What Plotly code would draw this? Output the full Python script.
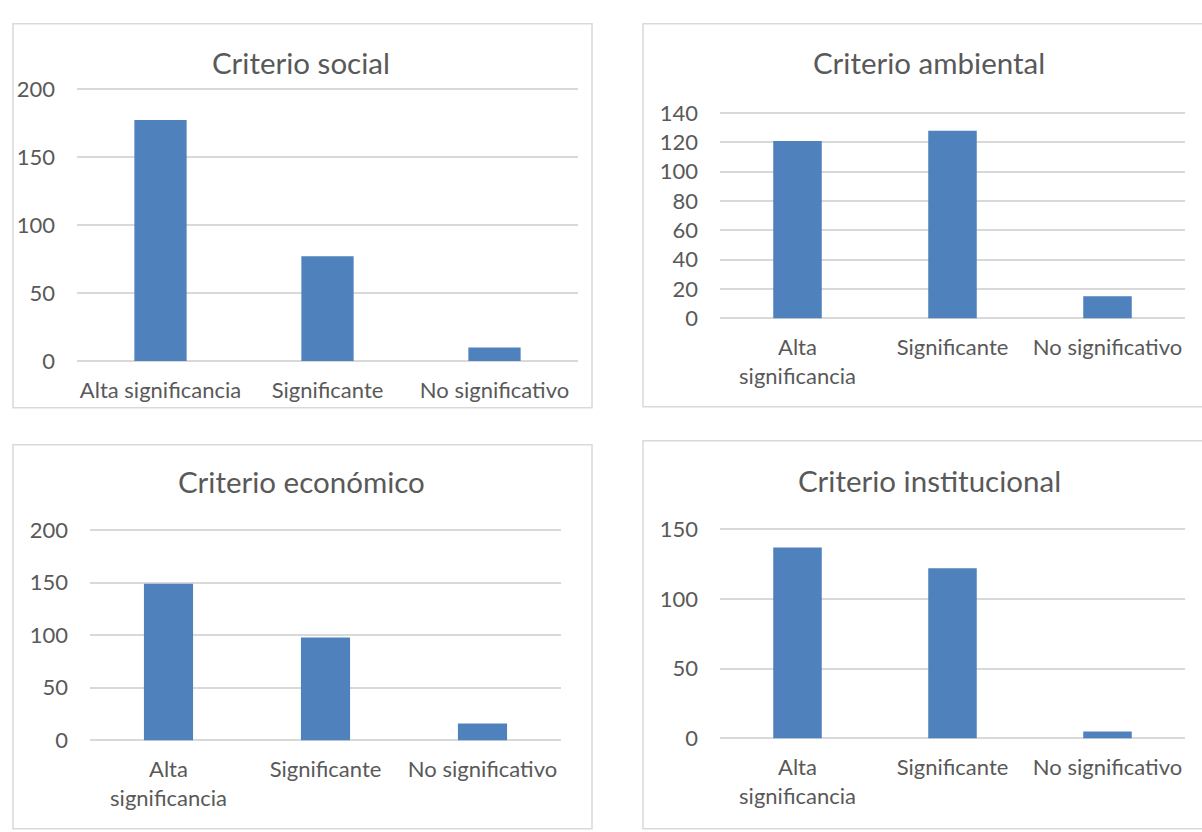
import plotly.graph_objects as go

W, H = 1202, 832

categories = ["Alta significancia", "Significante", "No significativo"]
labels_one_line = ["Alta significancia", "Significante", "No significativo"]
labels_wrapped = ["Alta<br>significancia", "Significante", "No significativo"]

titles = ["Criterio social", "Criterio ambiental", "Criterio económico", "Criterio institucional"]
social = [177, 77, 10]
ambiental = [121, 128, 15]
economico = [149, 98, 16]
institucional = [137, 122, 5]

series = [social, ambiental, economico, institucional]
y_max = [200, 140, 200, 150]
y_dticks = [50, 20, 50, 50]
tick_labels = [labels_one_line, labels_wrapped, labels_wrapped, labels_wrapped]

# pixel layout: plot (x0, x1, y_top, y_bottom), panel box (x0, y0, x1, y1), title centre (x, y)
plot_px = [(77, 578, 79, 359), (720, 1185, 104, 315), (90, 561, 533, 749), (720, 1185, 532, 747)]
box_px = [(13, 12, 592, 407), (643, 12, 1210, 406), (13, 445, 592, 840), (643, 441, 1210, 840)]
title_px = [(301, 52), (929, 52), (301, 483), (929, 482)]

FONT = "Lato, Calibri, 'Open Sans', sans-serif"
TXT = "#595959"
GRID = "#D9D9D9"
BAR = "#4F81BD"
TICK_SIZE = 22
TITLE_SIZE = 29.5

fig = go.Figure()
layout = dict(
    width=W, height=H, margin=dict(l=0, r=0, t=0, b=0),
    paper_bgcolor="white", plot_bgcolor="white",
    showlegend=False, bargap=0.687,
    font=dict(family=FONT, color=TXT, size=TICK_SIZE),
    shapes=[], annotations=[],
)

for i in range(4):
    sfx = "" if i == 0 else str(i + 1)
    xa, ya = "x" + sfx, "y" + sfx
    fig.add_trace(go.Bar(x=categories, y=series[i], xaxis=xa, yaxis=ya,
                         marker=dict(color=BAR, line=dict(width=0)), hoverinfo="x+y"))
    x0, x1, yt, yb = plot_px[i]
    ppu = (yb - yt) / y_max[i]          # pixels per unit
    eps = 2.0 / ppu                      # pad the range by 2 px so edge gridlines show
    layout["xaxis" + sfx] = dict(
        domain=[x0 / W, x1 / W], anchor=ya, type="category",
        tickvals=categories, ticktext=tick_labels[i],
        showgrid=False, zeroline=False, showline=False, ticks="",
        ticklabelstandoff=12, tickfont=dict(size=TICK_SIZE, color=TXT, family=FONT),
        fixedrange=True,
    )
    layout["yaxis" + sfx] = dict(
        domain=[1 - (yb + 2) / H, 1 - (yt - 2) / H], anchor=xa,
        range=[-eps, y_max[i] + eps],
        dtick=y_dticks[i], tick0=0, showgrid=True, gridcolor=GRID, gridwidth=1.5,
        zeroline=False, showline=False, ticks="", ticklabelstandoff=21,
        tickfont=dict(size=TICK_SIZE, color=TXT, family=FONT), fixedrange=True,
    )
    bx0, by0, bx1, by1 = box_px[i]
    layout["shapes"].append(dict(type="rect", xref="paper", yref="paper",
                                 x0=bx0 / W, x1=bx1 / W, y0=1 - by1 / H, y1=1 - by0 / H,
                                 line=dict(color=GRID, width=1.5), fillcolor="rgba(0,0,0,0)",
                                 layer="below"))
    tx, ty = title_px[i]
    layout["annotations"].append(dict(text=titles[i], xref="paper", yref="paper",
                                      x=tx / W, y=1 - ty / H, xanchor="center", yanchor="middle",
                                      showarrow=False,
                                      font=dict(size=TITLE_SIZE, color=TXT, family=FONT)))

fig.update_layout(**layout)
fig.write_html("out.html")
